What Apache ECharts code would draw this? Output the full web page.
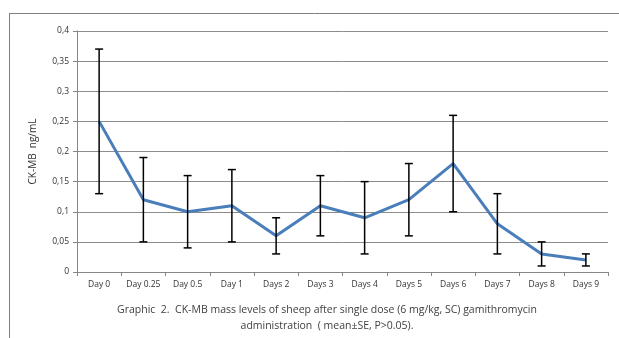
<!DOCTYPE html>
<html><head><meta charset="utf-8">
<script src="https://cdn.jsdelivr.net/npm/echarts@6/dist/echarts.min.js"></script>
<style>html,body{margin:0;padding:0;background:#fff;}#c{width:619px;height:338px;}</style>
</head><body><div id="c"></div>
<script>
const categories = ['Day 0','Day 0.25','Day 0.5','Day 1','Days 2','Days 3','Days 4','Days 5','Days 6','Days 7','Days 8','Days 9'];
const means = [0.25,0.12,0.10,0.11,0.06,0.11,0.09,0.12,0.18,0.08,0.03,0.02];
const lower = [0.13,0.05,0.04,0.05,0.03,0.06,0.03,0.06,0.10,0.03,0.01,0.01];
const upper = [0.37,0.19,0.16,0.17,0.09,0.16,0.15,0.18,0.26,0.13,0.05,0.03];
const yTicks = {0:'0',0.05:'0,05',0.1:'0,1',0.15:'0,15',0.2:'0,2',0.25:'0,25',0.3:'0,3',0.35:'0,35',0.4:'0,4'};

const chart = echarts.init(document.getElementById('c'), null, {renderer:'canvas'});
const font = '"Open Sans", "Liberation Sans", sans-serif';
chart.setOption({
  animation:false,
  backgroundColor:'#fff',
  grid:{left:77, right:11, top:31, bottom:66},
  graphic:[
    {type:'line', shape:{x1:10,y1:13.5,x2:619,y2:13.5}, style:{stroke:'#7f7f7f', lineWidth:1}},
    {type:'line', shape:{x1:9.5,y1:13,x2:9.5,y2:338}, style:{stroke:'#7f7f7f', lineWidth:1}},
    {type:'text', style:{x:327, y:302, text:'Graphic  2.  CK-MB mass levels of sheep after single dose (6 mg/kg, SC) gamithromycin\nadministration  ( mean±SE, P>0.05).', font:'10.5px '+font, fill:'#404040', textAlign:'center', lineHeight:16}}
  ],
  xAxis:{type:'category', data:categories, boundaryGap:true,
    axisLine:{lineStyle:{color:'#868686', width:1}},
    axisTick:{show:true, length:4, lineStyle:{color:'#868686'}},
    axisLabel:{fontSize:8.5, fontFamily:font, color:'#333', margin:8, interval:0}},
  yAxis:{type:'value', min:0, max:0.4, interval:0.05,
    name:'CK-MB  ng/mL', nameLocation:'middle', nameGap:39, nameRotate:90,
    nameTextStyle:{fontSize:10, fontFamily:font, color:'#333'},
    axisLine:{show:true, lineStyle:{color:'#868686'}},
    axisTick:{show:true, length:4, lineStyle:{color:'#868686'}},
    splitLine:{lineStyle:{color:'#8c8c8c', width:1}},
    axisLabel:{fontSize:8.5, fontFamily:font, color:'#333', margin:8,
      formatter:v=>{const k=Math.round(v*100)/100; return yTicks[k]!==undefined?yTicks[k]:String(v).replace('.',',');}}},
  series:[
    {type:'line', data:means, symbol:'none', lineStyle:{color:'#4a7ebb', width:3}, z:3},
    {type:'custom', z:4,
      data:categories.map((c,i)=>[i, lower[i], upper[i]]),
      renderItem:(params, api)=>{
        const x = api.value(0);
        const lo = api.coord([x, api.value(1)]);
        const hi = api.coord([x, api.value(2)]);
        const hw = 4;
        const st = {stroke:'#000', lineWidth:1.5};
        return {type:'group', children:[
          {type:'line', shape:{x1:lo[0],y1:lo[1],x2:hi[0],y2:hi[1]}, style:st},
          {type:'line', shape:{x1:lo[0]-hw,y1:lo[1],x2:lo[0]+hw,y2:lo[1]}, style:st},
          {type:'line', shape:{x1:hi[0]-hw,y1:hi[1],x2:hi[0]+hw,y2:hi[1]}, style:st}
        ]};
      }}
  ]
});
</script></body></html>
